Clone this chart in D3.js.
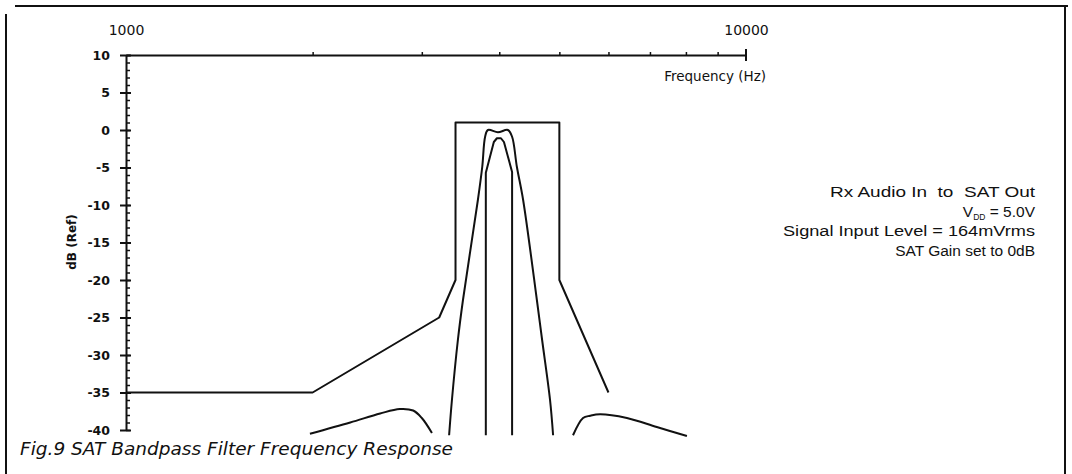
<!DOCTYPE html>
<html lang="en">
<head>
  <meta charset="UTF-8">
  <title>Fig.9 SAT Bandpass Filter Frequency Response</title>
  <script src="https://d3js.org/d3.v7.min.js"></script>
  <style>
    body {
      margin: 0;
      background: #fff;
    }
    svg {
      display: block;
    }
    text {
      font-family: "DejaVu Sans", "Liberation Sans", sans-serif;
      fill: #111;
    }
    .annot {
      font-family: "Liberation Sans", Arial, sans-serif;
      white-space: pre;
    }
  </style>
</head>
<body>
  <div id="chart"></div>

  <script>
    // axis ticks
    const freqLabels = [1000, 10000];
    const freqMinor = [2000, 3000, 4000, 5000, 6000, 7000, 8000, 9000];
    const dbMajor = [10, 5, 0, -5, -10, -15, -20, -25, -30, -35, -40];
    const dbMinor = d3.range(-40, 11, 1);

    // spec limit mask, [Hz, dB]
    const maskLimit = [
      [1000, -35], [2000, -35], [3200, -25], [3400, -20],
      [3400, 1], [5000, 1], [5000, -20], [6000, -35]
    ];

    // wide response curve
    const outerResponse = [
      [3320, -40.7], [3355, -36], [3430, -28], [3495, -22.7], [3695, -9.3],
      [3755, -4.9], [3795, -0.9], [3835, 0], [3980, -0.3], [4130, 0],
      [4195, -0.9], [4270, -4.9], [4370, -9.3], [4600, -22.7], [4690, -28],
      [4830, -36], [4885, -40.7]
    ];

    // narrow response curve
    const innerResponse = [
      [3805, -40.7], [3805, -5.7], [3920, -1.6], [3965, -1.1],
      [4025, -1.1], [4070, -1.6], [4195, -5.6], [4195, -40.7]
    ];

    // stopband side lobes
    const leftLobe = [
      [1980, -40.5], [2300, -39], [2570, -37.8], [2765, -37.2],
      [2905, -37.4], [3000, -38.4], [3115, -40.4]
    ];
    const rightLobe = [
      [5260, -40.7], [5460, -38.4], [5605, -38.1], [5815, -37.9],
      [6425, -38.4], [7180, -39.6], [8030, -40.8]
    ];

    const annotLines = [
      [{ t: "Rx Audio In  to  SAT Out" }],
      [{ t: "V" }, { t: "DD", sub: true }, { t: " = 5.0V" }],
      [{ t: "Signal Input Level = 164mVrms" }],
      [{ t: "SAT Gain set to 0dB" }]
    ];
    // stretched widths of the wide lines in the scan (null = natural width)
    const annotWidths = [205, null, 252, null];

    const titleText = "Fig.9 SAT Bandpass Filter Frequency Response";

    const width = 1072;
    const height = 474;

    const svg = d3.select("#chart")
      .append("svg")
      .attr("width", width)
      .attr("height", height);

    // page frame
    svg.append("path")
      .attr("d", "M15,6H1068 M6,14V474 M1065,7V474")
      .attr("fill", "none")
      .attr("stroke", "#111")
      .attr("stroke-width", 2);

    const x = d3.scaleLog()
      .domain([1000, 10000])
      .range([126, 746]);

    const y = d3.scaleLinear()
      .domain([-40, 10])
      .range([430, 55]);

    // x axis along the top
    const gx = svg.append("g")
      .attr("transform", `translate(0,${y(10)})`);

    gx.call(d3.axisTop(x)
        .tickValues(freqLabels)
        .tickSize(0)
        .tickPadding(20)
        .tickSizeOuter(0)
        .tickFormat(d => `${d}`))
      .call(g => g.select(".domain").attr("stroke", "#111").attr("stroke-width", 2))
      .call(g => g.selectAll("text")
        .style("font-size", "14px")
        .attr("fill", "#111"));

    gx.append("g")
      .call(d3.axisTop(x).tickValues(freqMinor).tickSize(3).tickFormat(""))
      .call(g => g.select(".domain").remove())
      .call(g => g.selectAll("line").attr("stroke", "#111").attr("stroke-width", 1.5));

    svg.append("line")
      .attr("x1", x(10000)).attr("x2", x(10000))
      .attr("y1", y(10) - 6).attr("y2", y(10) + 6)
      .attr("stroke", "#111")
      .attr("stroke-width", 2);

    svg.append("text")
      .attr("x", 766)
      .attr("y", 81)
      .attr("text-anchor", "end")
      .style("font-size", "13.5px")
      .text("Frequency (Hz)");

    // y axis
    const gy = svg.append("g")
      .attr("transform", `translate(${x(1000)},0)`);

    gy.call(d3.axisLeft(y)
        .tickValues(dbMajor)
        .tickSize(6)
        .tickPadding(10)
        .tickSizeOuter(0)
        .tickFormat(d => `${d}`))
      .call(g => g.select(".domain").attr("stroke", "#111").attr("stroke-width", 2))
      .call(g => g.selectAll(".tick line").attr("stroke", "#111").attr("stroke-width", 2))
      .call(g => g.selectAll("text")
        .style("font-size", "12.5px")
        .style("font-weight", "bold")
        .attr("fill", "#111"));

    gy.append("g")
      .call(d3.axisRight(y).tickValues(dbMajor).tickSize(5).tickFormat(""))
      .call(g => g.select(".domain").remove())
      .call(g => g.selectAll("line").attr("stroke", "#111").attr("stroke-width", 2));

    gy.append("g")
      .call(d3.axisRight(y).tickValues(dbMinor).tickSize(4).tickFormat(""))
      .call(g => g.select(".domain").remove())
      .call(g => g.selectAll("line").attr("stroke", "#111").attr("stroke-width", 1.5));

    svg.append("text")
      .attr("transform", "translate(76,242) rotate(-90)")
      .attr("text-anchor", "middle")
      .style("font-size", "12px")
      .style("font-weight", "bold")
      .text("dB (Ref)");

    // curves
    const straight = d3.line()
      .x(d => x(d[0]))
      .y(d => y(d[1]));

    const smooth = d3.line()
      .x(d => x(d[0]))
      .y(d => y(d[1]))
      .curve(d3.curveCatmullRom.alpha(0.5));

    const curves = [
      { data: maskLimit, gen: straight },
      { data: outerResponse, gen: smooth },
      { data: innerResponse, gen: straight },
      { data: leftLobe, gen: smooth },
      { data: rightLobe, gen: smooth }
    ];

    svg.append("g")
      .selectAll("path")
      .data(curves)
      .join("path")
      .attr("d", d => d.gen(d.data))
      .attr("fill", "none")
      .attr("stroke", "#111")
      .attr("stroke-width", 2)
      .attr("stroke-linejoin", "round");

    // conditions note, right aligned
    const annotRight = 1035;
    const annotSize = 15.5;
    annotLines.forEach((parts, i) => {
      const w = annotWidths[i];
      const t = svg.append("text")
        .attr("class", "annot")
        .attr("y", 197 + i * 19.7)
        .style("font-size", `${annotSize}px`);
      if (w) {
        t.attr("x", annotRight - w)
          .attr("textLength", w)
          .attr("lengthAdjust", "spacingAndGlyphs");
      } else {
        t.attr("x", annotRight).attr("text-anchor", "end");
      }
      parts.forEach((p, j) => {
        t.append("tspan")
          .attr("dy", p.sub ? 3 : (j > 0 ? -3 : 0))
          .style("font-size", p.sub ? "8.5px" : `${annotSize}px`)
          .text(p.t);
      });
    });

    // caption
    svg.append("text")
      .attr("x", 20)
      .attr("y", 455)
      .style("font-size", "18.5px")
      .style("font-style", "italic")
      .text(titleText);
  </script>
</body>
</html>
